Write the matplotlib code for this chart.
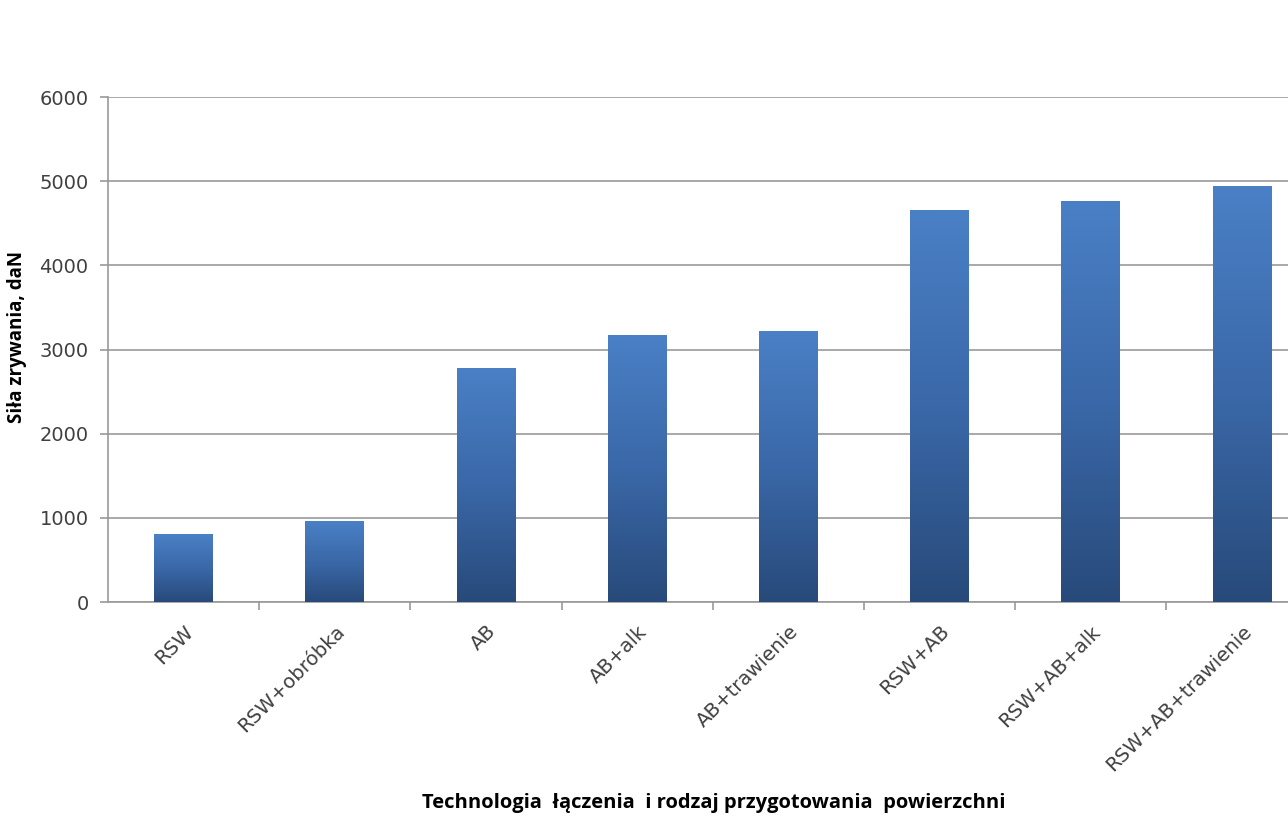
import matplotlib.pyplot as plt
import matplotlib as mpl
import numpy as np
from matplotlib.colors import LinearSegmentedColormap

# data
categories = ['RSW', 'RSW+obróbka', 'AB', 'AB+alk', 'AB+trawienie',
              'RSW+AB', 'RSW+AB+alk', 'RSW+AB+trawienie']
sila = [800, 960, 2770, 3170, 3220, 4650, 4760, 4940]
y_ticks = [0, 1000, 2000, 3000, 4000, 5000, 6000]

plt.rcParams['font.family'] = ['DejaVu Sans']

fig = plt.figure(figsize=(12.88, 8.23), dpi=100, facecolor='white')
# plot area runs past the right edge, like the cropped original
ax = fig.add_axes([0.0839, 0.2685, 0.9391, 0.6135])

x = np.arange(len(categories))
bars = ax.bar(x, sila, width=0.39, color='none', zorder=3)

# vertical gradient in each bar: light blue at top, dark navy at bottom
cmap = LinearSegmentedColormap.from_list('bar_grad', ['#284a7a', '#3a68a8', '#4a80c6'])
grad = np.linspace(0, 1, 256).reshape(-1, 1)
for b in bars:
    x0, w, h = b.get_x(), b.get_width(), b.get_height()
    ax.imshow(grad, cmap=cmap, origin='lower', aspect='auto',
              extent=[x0, x0 + w, 0, h], zorder=3)

ax.set_xlim(-0.5, len(categories) - 0.5)
ax.set_ylim(0, 6000)
ax.set_yticks(y_ticks)
ax.yaxis.grid(True, color='#999999', linewidth=1.2, zorder=0)
ax.set_axisbelow(True)

for s in ['top', 'right']:
    ax.spines[s].set_visible(False)
ax.spines['left'].set_color('#999999')
ax.spines['bottom'].set_color('#999999')
ax.spines['left'].set_linewidth(1.2)
ax.spines['bottom'].set_linewidth(1.2)

# ticks between categories on the x axis
ax.set_xticks(x[:-1] + 0.5)
ax.set_xticklabels([])
ax.tick_params(axis='x', direction='out', length=6, color='#999999', width=1.2)
ax.tick_params(axis='y', direction='out', length=6, color='#999999', width=1.2,
               labelsize=14, labelcolor='#404040', pad=8)

for xi, lab in zip(x, categories):
    ax.text(xi + 0.0, -235, lab, rotation=45, ha='right', va='top',
            rotation_mode='anchor', fontsize=14.2, color='#404040')

fig.text(0.0135, 1 - 337 / 823, 'Siła zrywania, daN', rotation=90,
         ha='center', va='center', fontsize=13.5, fontweight='bold',
         family=['Open Sans', 'DejaVu Sans'])
fig.text(0.554, 1 - 803 / 823, 'Technologia  łączenia  i rodzaj przygotowania  powierzchni',
         ha='center', va='center', fontsize=14.5, fontweight='bold',
         family=['Open Sans', 'DejaVu Sans'])

fig.savefig('out.png', dpi=100, facecolor='white')
